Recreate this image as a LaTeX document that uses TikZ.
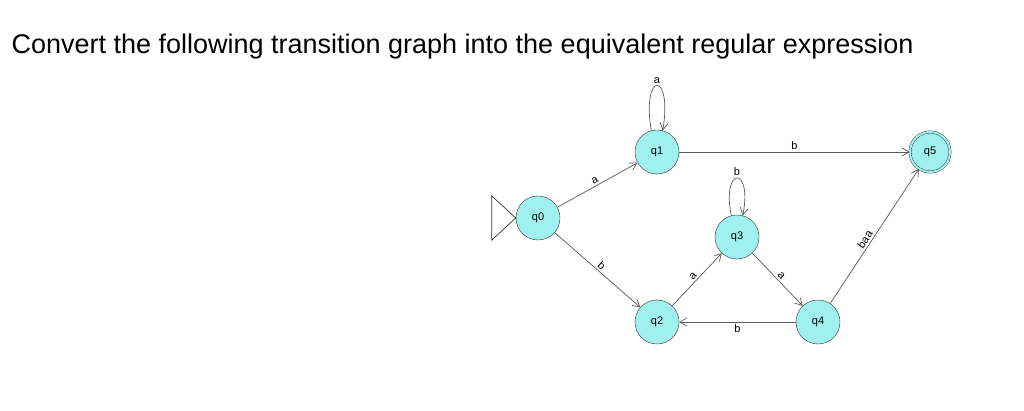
\documentclass[tikz,border=0pt]{standalone}
\usepackage{fontspec}
\setmainfont{Liberation Sans}
\usetikzlibrary{arrows.meta}
\definecolor{nodefill}{RGB}{160,240,240}
\begin{document}
\begin{tikzpicture}[x=1pt,y=-1pt,
  st/.style={circle,draw=black!80,fill=nodefill,minimum size=44pt,inner sep=0pt,font=\fontsize{11}{13}\selectfont},
  fin/.style={st,double=nodefill,double distance=2pt},
  tr/.style={draw=black!65,line width=0.7pt,-{Straight Barb[length=7pt,width=8pt]}},
  lb/.style={font=\fontsize{11}{13}\selectfont,inner sep=2pt}]
\useasboundingbox (0,0) rectangle (1024,411);
\node[anchor=west,font=\fontsize{27}{31}\selectfont] (title) at (8,47) {Convert the following transition graph into the equivalent regular expression};
\node[st] (q0) at (538,218) {q0};
\node[st] (q1) at (657,152) {q1};
\node[fin,minimum size=40pt] (q5) at (930,152) {q5};
\node[st] (q3) at (737,237) {q3};
\node[st] (q2) at (657,322) {q2};
\node[st] (q4) at (818,322) {q4};
\draw[black!80,line width=0.7pt] (q0.west) -- ++(-24,-22) -- ++(0,44) -- cycle;
\draw[tr] (q0) -- node[lb,sloped,above] {a} (q1);
\draw[tr] (q0) -- node[lb,sloped,above] {b} (q2);
\draw[tr] (q1) -- node[lb,above] {b} (q5);
\draw[tr] (q2) -- node[lb,sloped,above] {a} (q3);
\draw[tr] (q3) -- node[lb,sloped,above] {a} (q4);
\draw[tr] (q4) -- node[lb,below] {b} (q2);
\draw[tr] (q4) -- node[lb,sloped,above,pos=0.45] {baa} (q5);
\draw[tr] (q1.105) .. controls +(-10,-60) and +(10,-60) .. node[lb,above] {a} (q1.75);
\draw[tr] (q3.105) .. controls +(-10,-50) and +(10,-50) .. node[lb,above] {b} (q3.75);
\end{tikzpicture}
\end{document}
